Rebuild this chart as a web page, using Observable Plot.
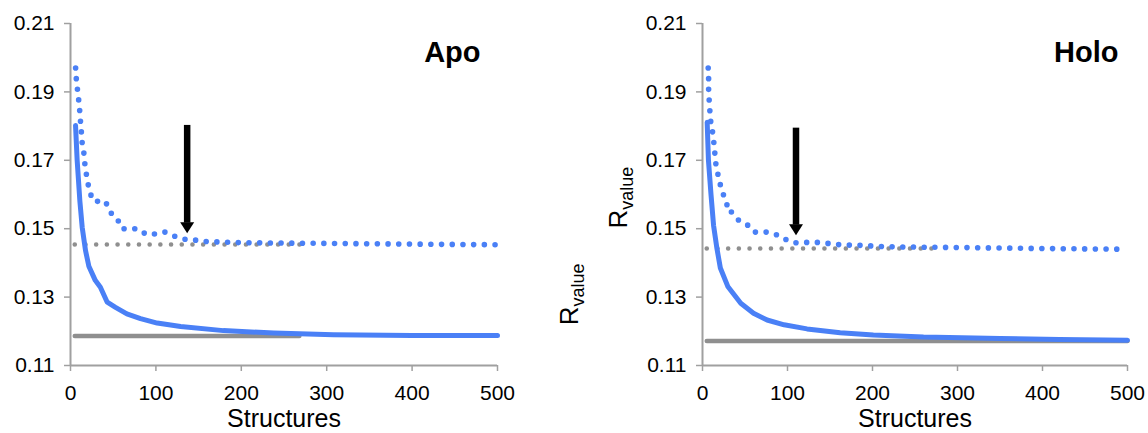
<!DOCTYPE html>
<html><head><meta charset="utf-8">
<script src="https://cdn.jsdelivr.net/npm/d3@7"></script>
<script src="https://cdn.jsdelivr.net/npm/@observablehq/plot@0.6"></script>
<style>
body{margin:0;background:#fff;}
#wrap{display:flex;width:1148px;height:433px;overflow:hidden;}
#wrap svg{overflow:visible;}
</style></head><body><div id="wrap"></div>
<script>
const xTicks = [0, 100, 200, 300, 400, 500];
const yTicks = [0.11, 0.13, 0.15, 0.17, 0.19, 0.21];
const panelTitles = ["Apo", "Holo"];
const xLabel = "Structures";
const yLabelMain = "R";
const yLabelSub = "value";

// Apo
const apoDottedX = [6, 7, 9, 10.5, 11.5, 12.5, 13.7, 16.4, 17, 19.5, 22, 27, 41, 45.7, 54.6, 60, 78, 89, 96, 107, 111, 122, 134, 142, 153, 165, 200, 300, 400, 500];
const apoDottedY = [0.197, 0.193, 0.189, 0.1854, 0.182, 0.179, 0.175, 0.171, 0.168, 0.1647, 0.161, 0.158, 0.158, 0.155, 0.153, 0.150, 0.150, 0.1483, 0.1483, 0.149, 0.149, 0.1478, 0.1469, 0.1469, 0.1463, 0.1462, 0.1459, 0.1457, 0.1455, 0.1453];
const apoSolidX = [5.9, 7.8, 11, 13.7, 17.6, 21.5, 29, 35, 43, 52.7, 66, 82, 101.5, 129, 179, 238, 308, 400, 500];
const apoSolidY = [0.1802, 0.170, 0.158, 0.1504, 0.1436, 0.139, 0.1349, 0.1329, 0.1285, 0.1270, 0.1251, 0.1237, 0.1224, 0.1214, 0.1202, 0.1195, 0.1190, 0.1188, 0.1188];
const apoGrayDottedX = [5, 270];
const apoGrayDottedY = [0.1454, 0.1454];
const apoGraySolidX = [5, 268];
const apoGraySolidY = [0.1186, 0.1186];
const apoArrowX = [136.6];
const apoArrowTop = [0.1802];
const apoArrowTip = [0.1487];

// Holo
const holoDottedX = [6.7, 7.2, 7.2, 8, 8.5, 9.4, 10.5, 12.4, 13.3, 14.5, 15.7, 18.4, 20, 22.4, 28, 30, 34, 40, 46.7, 54.5, 61.5, 67.5, 77, 89, 95.6, 107, 110, 122, 135, 141, 154, 166.5, 180, 219, 300, 400, 497];
const holoDottedY = [0.197, 0.1938, 0.1902, 0.187, 0.185, 0.1821, 0.1792, 0.1779, 0.1753, 0.1721, 0.169, 0.1656, 0.1641, 0.161, 0.1583, 0.1549, 0.1549, 0.153, 0.1517, 0.1509, 0.149, 0.149, 0.149, 0.1481, 0.1471, 0.1459, 0.1459, 0.146, 0.146, 0.1459, 0.1455, 0.1452, 0.1452, 0.1447, 0.1445, 0.1442, 0.144];
const holoSolidX = [5.5, 7, 10, 13, 17, 21, 30, 45, 60, 76, 96, 123, 162, 201, 260, 350, 420, 500];
const holoSolidY = [0.1811, 0.170, 0.160, 0.151, 0.1442, 0.1385, 0.1330, 0.1282, 0.1253, 0.1233, 0.1219, 0.1207, 0.1196, 0.1189, 0.1183, 0.1179, 0.1176, 0.1174];
const holoGrayDottedX = [5, 272];
const holoGrayDottedY = [0.1442, 0.1442];
const holoGraySolidX = [5, 500];
const holoGraySolidY = [0.1172, 0.1172];
const holoArrowX = [110];
const holoArrowTop = [0.1794];
const holoArrowTip = [0.1481];

const BLUE = "#4a80f6";
const GRAY = "#8f8f8f";
const AXIS = "#a0a0a0";
const FONT = "'Liberation Sans', Arial, Helvetica, sans-serif";

const pts = (xs, ys) => xs.map((x, i) => ({x, y: ys[i]}));

function panel(o) {
  const arrow = o.arrowX.map((x, i) => ({x, top: o.arrowTop[i], tip: o.arrowTip[i]}));
  return Plot.plot({
    width: o.width, height: 433,
    marginLeft: o.ml, marginRight: o.mr, marginTop: 23, marginBottom: 68,
    style: {fontFamily: FONT, fontSize: "21px", color: "black", background: "white", overflow: "visible"},
    x: {domain: [0, 500]},
    y: {domain: [0.11, 0.21]},
    marks: [
      Plot.ruleX([0], {stroke: AXIS, strokeWidth: 2}),
      Plot.ruleY([0.11], {stroke: AXIS, strokeWidth: 2}),
      Plot.axisX({ticks: xTicks, tickSize: 6, tickPadding: 14, stroke: AXIS, strokeWidth: 1.5, fill: "black", fontSize: 21, label: null}),
      Plot.axisY({ticks: yTicks, tickFormat: d3.format(".2f"), tickSize: 6, tickPadding: 10, stroke: AXIS, strokeWidth: 1.5, fill: "black", fontSize: 21, label: null}),
      Plot.line(pts(o.gsX, o.gsY), {x: "x", y: "y", stroke: GRAY, strokeWidth: 4.5}),
      Plot.line(pts(o.gdX, o.gdY), {x: "x", y: "y", stroke: GRAY, strokeWidth: 4.6, strokeDasharray: "0 10.7", strokeLinecap: "round"}),
      Plot.line(pts(o.sX, o.sY), {x: "x", y: "y", stroke: BLUE, strokeWidth: 5, strokeLinejoin: "round"}),
      Plot.line(pts(o.dX, o.dY), {x: "x", y: "y", stroke: BLUE, strokeWidth: 5.6, strokeDasharray: "0 10.7", strokeLinecap: "round"}),
      Plot.ruleX(arrow, {x: "x", y1: "top", y2: "tip", stroke: "black", strokeWidth: 6.5, insetBottom: 10}),
      Plot.vector(arrow, {x: "x", y: "tip", shape: "spike", length: 11, r: 7, rotate: 180, anchor: "end", fill: "black", stroke: "none"}),
      Plot.text([o.title], {frameAnchor: "top-right", dx: o.tdx, dy: 18, lineAnchor: "top", textAnchor: "end", fontSize: 29, fontWeight: "bold", fill: "black"}),
      Plot.text([xLabel], {frameAnchor: "bottom", dy: 53, lineAnchor: "middle", fontSize: 25, fill: "black"})
    ]
  });
}

const left = panel({width: 550, ml: 70, mr: 53, title: panelTitles[0], tdx: -17,
  dX: apoDottedX, dY: apoDottedY, sX: apoSolidX, sY: apoSolidY,
  gdX: apoGrayDottedX, gdY: apoGrayDottedY, gsX: apoGraySolidX, gsY: apoGraySolidY,
  arrowX: apoArrowX, arrowTop: apoArrowTop, arrowTip: apoArrowTip});
const right = panel({width: 598, ml: 152, mr: 21, title: panelTitles[1], tdx: -9,
  dX: holoDottedX, dY: holoDottedY, sX: holoSolidX, sY: holoSolidY,
  gdX: holoGrayDottedX, gdY: holoGrayDottedY, gsX: holoGraySolidX, gsY: holoGraySolidY,
  arrowX: holoArrowX, arrowTop: holoArrowTop, arrowTip: holoArrowTip});

const wrap = document.getElementById("wrap");
wrap.appendChild(left);
wrap.appendChild(right);

// y-axis titles (R with subscript), placed in the gap between the panels
function addYLabel(svg, x, y) {
  const t = d3.select(svg).append("text")
    .attr("transform", `translate(${x},${y}) rotate(-90)`)
    .attr("text-anchor", "start")
    .attr("font-family", FONT)
    .attr("font-size", 26)
    .attr("fill", "black");
  t.append("tspan").text(yLabelMain);
  t.append("tspan").attr("font-size", 18).attr("dy", 6).text(yLabelSub);
}
const ys = right.scale("y");
addYLabel(right, 28, ys.apply(0.1216));
addYLabel(right, 77, ys.apply(0.1499));
</script>
</body></html>
